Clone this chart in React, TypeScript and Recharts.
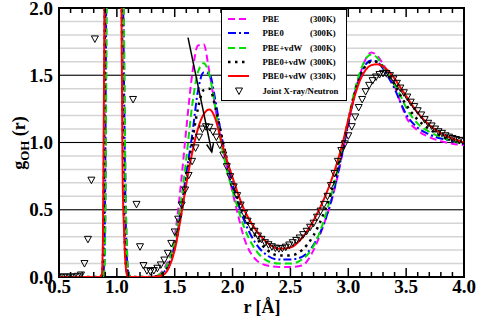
import React from 'react';
import { ComposedChart, Line, Scatter, XAxis, YAxis, CartesianGrid, ReferenceLine, ReferenceArea, Legend } from 'recharts';

const FONT = '"Liberation Serif", "Times New Roman", serif';

// r grid for the simulated curves
const rGrid = [0.5, 0.85, 0.87, 0.88, 0.89, 0.9, 0.91, 0.92, 0.97, 1.02, 1.03, 1.04, 1.05, 1.06, 1.07, 1.08, 1.09, 1.1, 1.12, 1.2,
  1.3, 1.35, 1.4, 1.45, 1.5, 1.55, 1.6, 1.65, 1.7, 1.75, 1.8, 1.85, 1.9, 1.95, 2.0, 2.05, 2.1, 2.2, 2.3, 2.4,
  2.5, 2.6, 2.7, 2.8, 2.85, 2.9, 2.95, 3.0, 3.05, 3.1, 3.15, 3.2, 3.25, 3.3, 3.35, 3.4, 3.45, 3.5, 3.6, 3.7,
  3.8, 3.9, 4.0];

const pbe = [0, 0, 0, 0, 0.03, 0.4, 1.9, 4, 12, 6.5, 5, 3.8, 2.8, 2.0, 1.05, 0.45, 0.15, 0.05, 0, 0,
  0, 0.01, 0.05, 0.14, 0.3, 0.66, 1.1, 1.5, 1.72, 1.73, 1.52, 1.26, 1.02, 0.82, 0.63, 0.45, 0.29, 0.13, 0.085, 0.075,
  0.075, 0.085, 0.2, 0.42, 0.55, 0.72, 0.92, 1.13, 1.34, 1.5, 1.62, 1.67, 1.645, 1.585, 1.51, 1.42, 1.3, 1.19, 1.09, 1.04,
  1.01, 0.99, 0.98];

const pbe0 = [0, 0, 0, 0.01, 0.1, 0.8, 2.5, 4.5, 12, 6, 4.6, 3.4, 2.4, 1.6, 0.8, 0.3, 0.1, 0.03, 0, 0,
  0, 0.005, 0.03, 0.1, 0.24, 0.48, 0.77, 1.05, 1.38, 1.52, 1.51, 1.32, 1.07, 0.86, 0.69, 0.54, 0.42, 0.25, 0.16, 0.13,
  0.13, 0.15, 0.24, 0.42, 0.56, 0.73, 0.93, 1.14, 1.34, 1.49, 1.58, 1.61, 1.6, 1.55, 1.48, 1.4, 1.3, 1.21, 1.11, 1.06,
  1.03, 1.01, 0.99];

const pbeVdw = [0, 0, 0, 0, 0.03, 0.4, 1.9, 4, 12, 6.5, 5, 3.8, 2.8, 1.95, 1.0, 0.42, 0.14, 0.04, 0, 0,
  0, 0.01, 0.04, 0.12, 0.27, 0.53, 0.88, 1.27, 1.52, 1.59, 1.5, 1.27, 1.0, 0.8, 0.64, 0.5, 0.37, 0.2, 0.12, 0.1,
  0.1, 0.13, 0.23, 0.45, 0.6, 0.77, 0.97, 1.17, 1.37, 1.52, 1.62, 1.655, 1.63, 1.57, 1.5, 1.43, 1.35, 1.26, 1.14, 1.08,
  1.04, 1.01, 0.99];

const pbe0Vdw300 = [0, 0, 0.01, 0.15, 1.0, 2.8, 4.8, 6.8, 12, 5.2, 3.6, 2.4, 1.2, 0.55, 0.22, 0.07, 0.02, 0, 0, 0,
  0, 0.005, 0.03, 0.09, 0.22, 0.44, 0.72, 1.0, 1.25, 1.39, 1.4, 1.27, 1.07, 0.88, 0.72, 0.58, 0.46, 0.3, 0.2, 0.16,
  0.16, 0.2, 0.31, 0.5, 0.62, 0.78, 0.96, 1.16, 1.35, 1.49, 1.57, 1.6, 1.6, 1.56, 1.5, 1.43, 1.35, 1.28, 1.17, 1.1,
  1.05, 1.02, 1.0];

const pbe0Vdw330 = [0, 0, 0.02, 0.3, 1.6, 3.5, 5.5, 7.5, 12, 5, 3.3, 2.0, 0.75, 0.4, 0.17, 0.05, 0.01, 0, 0, 0,
  0, 0.003, 0.015, 0.07, 0.2, 0.43, 0.69, 0.92, 1.1, 1.21, 1.245, 1.18, 1.02, 0.87, 0.74, 0.61, 0.5, 0.35, 0.255, 0.21,
  0.22, 0.29, 0.42, 0.6, 0.71, 0.84, 0.99, 1.17, 1.33, 1.46, 1.54, 1.575, 1.582, 1.565, 1.53, 1.475, 1.41, 1.345, 1.22, 1.13,
  1.07, 1.03, 1.0];

// joint X-ray / neutron points (those above 2.0 are off the plot)
const expR = [0.51, 0.54, 0.57, 0.6, 0.63, 0.66, 0.69, 0.72, 0.75, 0.78, 0.81,
  1.14, 1.17, 1.2, 1.23, 1.26, 1.29, 1.32, 1.35, 1.38, 1.41, 1.44, 1.47, 1.5, 1.53, 1.56, 1.59, 1.62, 1.65, 1.68,
  1.71, 1.74, 1.77, 1.8, 1.83, 1.86, 1.89, 1.92, 1.95, 1.98, 2.01, 2.04, 2.07, 2.1, 2.13, 2.16, 2.19, 2.22, 2.25, 2.28,
  2.31, 2.34, 2.37, 2.4, 2.43, 2.46, 2.49, 2.52, 2.55, 2.58, 2.61, 2.64, 2.67, 2.7, 2.73, 2.76, 2.79, 2.82, 2.85, 2.88,
  2.91, 2.94, 2.97, 3.0, 3.03, 3.06, 3.09, 3.12, 3.15, 3.18, 3.21, 3.24, 3.27, 3.3, 3.33, 3.36, 3.39, 3.42, 3.45, 3.48,
  3.51, 3.54, 3.57, 3.6, 3.63, 3.66, 3.69, 3.72, 3.75, 3.78, 3.81, 3.84, 3.87, 3.9, 3.93, 3.96, 3.99];

const expG = [0, 0, 0, 0, 0, 0.005, 0.015, 0.1, 0.28, 0.72, 1.77,
  1.32, 0.54, 0.225, 0.085, 0.047, 0.04, 0.048, 0.065, 0.09, 0.126, 0.176, 0.25, 0.335, 0.43, 0.535, 0.647, 0.755, 0.86, 0.96,
  1.04, 1.1, 1.117, 1.113, 1.08, 1.04, 0.98, 0.907, 0.82, 0.746, 0.67, 0.605, 0.535, 0.473, 0.415, 0.375, 0.34, 0.305, 0.28, 0.255,
  0.24, 0.225, 0.215, 0.21, 0.213, 0.222, 0.238, 0.255, 0.272, 0.29, 0.315, 0.34, 0.37, 0.4, 0.445, 0.49, 0.54, 0.6, 0.68, 0.77,
  0.86, 0.94, 0.99, 1.05, 1.118, 1.19, 1.26, 1.32, 1.378, 1.425, 1.46, 1.487, 1.505, 1.514, 1.512, 1.497, 1.472, 1.44, 1.405, 1.37,
  1.338, 1.3, 1.267, 1.236, 1.205, 1.17, 1.143, 1.123, 1.1, 1.08, 1.068, 1.05, 1.04, 1.03, 1.022, 1.016, 1.012];

const xTicks = [0.5, 0.6, 0.7, 0.8, 0.9, 1.0, 1.1, 1.2, 1.3, 1.4, 1.5, 1.6, 1.7, 1.8, 1.9, 2.0, 2.1, 2.2,
  2.3, 2.4, 2.5, 2.6, 2.7, 2.8, 2.9, 3.0, 3.1, 3.2, 3.3, 3.4, 3.5, 3.6, 3.7, 3.8, 3.9, 4.0];
const yTicks = [0, 0.1, 0.2, 0.3, 0.4, 0.5, 0.6, 0.7, 0.8, 0.9, 1.0, 1.1, 1.2, 1.3, 1.4, 1.5, 1.6, 1.7, 1.8, 1.9, 2.0];
const yMajor = [0.5, 1.0, 1.5];

const seriesNames = ['PBE', 'PBE0', 'PBE+vdW', 'PBE0+vdW', 'PBE0+vdW', 'Joint X-ray/Neutron'];
const seriesTemps = ['(300K)', '(300K)', '(300K)', '(300K)', '(330K)', ''];

const lineData = rGrid.map((r, i) => ({
  r,
  pbe: pbe[i],
  pbe0: pbe0[i],
  pbeVdw: pbeVdw[i],
  pbe0Vdw300: pbe0Vdw300[i],
  pbe0Vdw330: pbe0Vdw330[i],
}));
const expData = expR.map((r, i) => ({ r, g: expG[i] }));

const lines = [
  { key: 'pbe', color: '#ff00ff', dash: '7 4', width: 2 },
  { key: 'pbe0', color: '#0000ff', dash: '8 3 2 3', width: 2 },
  { key: 'pbeVdw', color: '#00e000', dash: '7 4', width: 2 },
  { key: 'pbe0Vdw300', color: '#000000', dash: '2.5 4.5', width: 2.5 },
  { key: 'pbe0Vdw330', color: '#ff0000', dash: undefined, width: 2 },
];

// plot box in page pixels
const PLOT_TOP = 8;
const PLOT_BOTTOM = 277;
const PLOT_LEFT = 59;

const isMajor = (v: number) => Math.abs(v * 2 - Math.round(v * 2)) < 1e-6;

const BottomTick = (p: any) => {
  const { x, payload } = p;
  const v = payload.value;
  const major = isMajor(v);
  return (
    <g>
      <line x1={x} x2={x} y1={PLOT_BOTTOM} y2={PLOT_BOTTOM - (major ? 9 : 5)} stroke="#000" strokeWidth={1.5} />
      {major && (
        <text x={x} y={PLOT_BOTTOM + 16} textAnchor="middle" fontFamily={FONT} fontWeight="bold" fontSize={19} fill="#000">
          {v.toFixed(1)}
        </text>
      )}
    </g>
  );
};

const TopTick = (p: any) => {
  const { x, payload } = p;
  const major = isMajor(payload.value);
  return <line x1={x} x2={x} y1={PLOT_TOP} y2={PLOT_TOP + (major ? 9 : 5)} stroke="#000" strokeWidth={1.5} />;
};

const LeftTick = (p: any) => {
  const { y, payload } = p;
  const v = payload.value;
  if (!isMajor(v)) return <g />;
  return (
    <text x={PLOT_LEFT - 6} y={y} dy="0.35em" textAnchor="end" fontFamily={FONT} fontWeight="bold" fontSize={19} fill="#000">
      {v.toFixed(1)}
    </text>
  );
};

const Triangle = (p: any) => {
  const { cx, cy } = p;
  return (
    <path d={`M${cx - 3.5},${cy - 3} L${cx + 3.5},${cy - 3} L${cx},${cy + 3.5} Z`} fill="none" stroke="#000" strokeWidth={1} />
  );
};

const Arrow = (p: any) => {
  const { x1, y1, x2, y2 } = p;
  const ang = Math.atan2(y2 - y1, x2 - x1);
  const L = 9;
  const a = 0.4;
  const hx1 = x2 - L * Math.cos(ang - a);
  const hy1 = y2 - L * Math.sin(ang - a);
  const hx2 = x2 - L * Math.cos(ang + a);
  const hy2 = y2 - L * Math.sin(ang + a);
  return (
    <g>
      <line x1={x1} y1={y1} x2={x2} y2={y2} stroke="#000" strokeWidth={1.5} />
      <path d={`M${hx1},${hy1} L${x2},${y2} L${hx2},${hy2}`} fill="none" stroke="#000" strokeWidth={1.5} />
    </g>
  );
};

const YLabel = () => (
  <text transform="rotate(-90 25 143)" x={25} y={143} textAnchor="middle" fontFamily={FONT} fontWeight="bold" fontSize={18} fill="#000">
    g<tspan fontSize={13} dy={4}>OH</tspan>
    <tspan dy={-4}> (r)</tspan>
  </text>
);

const XLabel = () => (
  <text x={262} y={313} textAnchor="middle" fontFamily={FONT} fontWeight="bold" fontSize={18} fill="#000">
    r [Å]
  </text>
);

const LegendBox = () => (
  <div
    style={{
      position: 'relative',
      width: 126,
      height: 92,
      boxSizing: 'border-box',
      border: '1.5px solid #000',
      background: '#fff',
      fontFamily: FONT,
      fontWeight: 'bold',
      fontSize: 8.7,
      color: '#000',
    }}
  >
    {seriesNames.map((name, i) => (
      <div key={i} style={{ position: 'absolute', left: 0, top: 2 + i * 14.3, height: 14, width: '100%' }}>
        <svg width={26} height={14} style={{ position: 'absolute', left: 5, top: 0 }}>
          {i < lines.length ? (
            <line x1={1} x2={22} y1={7} y2={7} stroke={lines[i].color} strokeWidth={lines[i].width} strokeDasharray={lines[i].dash} />
          ) : (
            <Triangle cx={12} cy={7} />
          )}
        </svg>
        <span style={{ position: 'absolute', left: 40.5, top: 0, lineHeight: '14px', whiteSpace: 'nowrap' }}>{name}</span>
        {seriesTemps[i] && (
          <span style={{ position: 'absolute', left: 88, top: 0, lineHeight: '14px', whiteSpace: 'nowrap' }}>{seriesTemps[i]}</span>
        )}
      </div>
    ))}
  </div>
);

export default function App() {
  return (
    <div style={{ position: 'absolute', left: 0, top: 0, background: '#fff' }}>
      <ComposedChart width={477} height={326} data={lineData} margin={{ top: 0, right: 13, bottom: 19, left: 29 }}>
        <CartesianGrid horizontal vertical={false} stroke="#d4d4d4" strokeWidth={1.5} />
        <XAxis
          dataKey="r"
          type="number"
          domain={[0.5, 4]}
          ticks={xTicks}
          interval={0}
          height={30}
          tickSize={0}
          tickMargin={0}
          tickLine={false}
          axisLine={false}
          tick={BottomTick}
          allowDataOverflow
          label={<XLabel />}
        />
        <XAxis
          xAxisId="top"
          orientation="top"
          dataKey="r"
          type="number"
          domain={[0.5, 4]}
          ticks={xTicks}
          interval={0}
          height={8}
          tickSize={0}
          tickMargin={0}
          tickLine={false}
          axisLine={false}
          tick={TopTick}
          allowDataOverflow
        />
        <YAxis
          type="number"
          domain={[0, 2]}
          ticks={yTicks}
          interval={0}
          width={30}
          tickSize={0}
          tickMargin={0}
          tickLine={false}
          axisLine={false}
          tick={LeftTick}
          allowDataOverflow
          label={<YLabel />}
        />
        {yMajor.map((v) => (
          <ReferenceLine key={v} y={v} stroke="#000" strokeWidth={1.2} />
        ))}
        {lines.map((l) => (
          <Line
            key={l.key}
            type="monotone"
            dataKey={l.key}
            stroke={l.color}
            strokeWidth={l.width}
            strokeDasharray={l.dash}
            dot={false}
            activeDot={false}
            isAnimationActive={false}
          />
        ))}
        <Scatter data={expData} dataKey="g" shape={Triangle} isAnimationActive={false} />
        <ReferenceLine segment={[{ x: 1.615, y: 1.78 }, { x: 1.82, y: 0.93 }]} shape={Arrow} />
        <ReferenceArea x1={0.5} x2={4} y1={0} y2={2} fill="none" stroke="#000" strokeWidth={2} />
        <Legend
          layout="vertical"
          align="center"
          verticalAlign="middle"
          content={() => <LegendBox />}
          wrapperStyle={{ left: 221, top: 9, width: 126, height: 92 }}
        />
      </ComposedChart>
    </div>
  );
}
